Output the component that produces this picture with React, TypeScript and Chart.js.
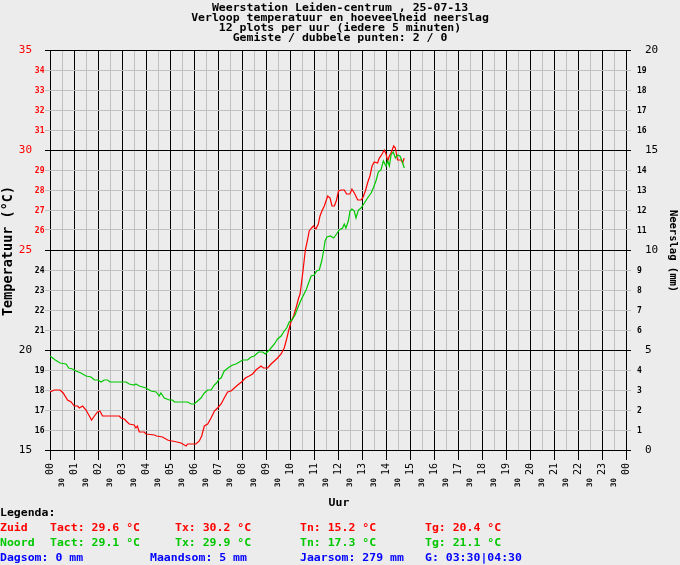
import { useEffect, useRef } from 'react';
import { Chart, registerables } from 'chart.js';

Chart.register(...registerables);

const titelRegels = [
  'Weerstation Leiden-centrum , 25-07-13',
  'Verloop temperatuur en hoeveelheid neerslag',
  '12 plots per uur (iedere 5 minuten)',
  'Gemiste / dubbele punten: 2 / 0',
];

// tijd in uren, temperatuur in °C
const zuidUur = [
  0.0, 0.18, 0.42, 0.55, 0.73, 0.88, 1.01, 1.15, 1.22, 1.36, 1.5, 1.64, 1.73, 1.85, 1.98, 2.08,
  2.19, 2.89, 2.96, 3.1, 3.17, 3.3, 3.51, 3.58, 3.64, 3.72, 3.93, 4.0, 4.35, 4.44, 4.69, 4.9,
  5.04, 5.11, 5.46, 5.67, 5.73, 6.08, 6.22, 6.32, 6.43, 6.57, 6.71, 6.85, 6.98, 7.13, 7.26, 7.4,
  7.54, 7.68, 7.82, 7.98, 8.14, 8.3, 8.44, 8.58, 8.79, 8.89, 9.07, 9.21, 9.35, 9.48, 9.63, 9.76,
  9.86, 9.94, 10.04, 10.15, 10.25, 10.36, 10.42, 10.53, 10.64, 10.73, 10.8, 10.9, 10.98, 11.08,
  11.18, 11.25, 11.33, 11.43, 11.5, 11.57, 11.67, 11.75, 11.85, 11.94, 12.02, 12.13, 12.26, 12.36,
  12.5, 12.58, 12.68, 12.82, 12.96, 13.03, 13.14, 13.23, 13.33, 13.42, 13.51, 13.65, 13.72, 13.79,
  13.93, 14.0, 14.07, 14.14, 14.21, 14.32, 14.39, 14.48, 14.63, 14.69, 14.76,
];
const zuidTemp = [
  17.9, 18.0, 18.0, 17.85, 17.5, 17.4, 17.2, 17.2, 17.1, 17.2, 17.0, 16.7, 16.5, 16.7, 16.9, 16.95,
  16.7, 16.7, 16.6, 16.55, 16.45, 16.3, 16.25, 16.1, 16.2, 15.9, 15.9, 15.8, 15.75, 15.7, 15.65, 15.5,
  15.45, 15.45, 15.35, 15.2, 15.3, 15.3, 15.45, 15.7, 16.2, 16.3, 16.6, 16.95, 17.1, 17.3, 17.6, 17.9,
  17.95, 18.1, 18.25, 18.4, 18.6, 18.7, 18.8, 19.0, 19.2, 19.1, 19.1, 19.3, 19.45, 19.6, 19.8, 20.1,
  20.55, 20.95, 21.4, 21.7, 22.1, 22.6, 22.8, 23.85, 25.0, 25.5, 25.95, 26.1, 26.2, 26.05,
  26.3, 26.7, 26.95, 27.2, 27.45, 27.7, 27.6, 27.2, 27.2, 27.5, 27.95, 28.0, 28.0, 27.8,
  27.8, 28.05, 27.85, 27.5, 27.5, 27.6, 27.95, 28.35, 28.7, 29.2, 29.4, 29.35, 29.6, 29.7,
  30.0, 29.8, 29.45, 29.7, 29.85, 30.2, 30.1, 29.5, 29.5, 29.35, 29.6,
];

const noordUur = [
  0.0, 0.22, 0.42, 0.67, 0.78, 0.94, 1.08, 1.29, 1.5, 1.71, 1.85, 2.0, 2.13, 2.26, 2.4, 2.5,
  3.17, 3.3, 3.51, 3.58, 3.72, 4.0, 4.21, 4.42, 4.55, 4.62, 4.76, 4.97, 5.11, 5.18, 5.73, 5.88,
  6.01, 6.15, 6.29, 6.43, 6.57, 6.71, 6.85, 6.94, 7.05, 7.13, 7.26, 7.47, 7.61, 7.75, 7.89, 8.03,
  8.23, 8.38, 8.51, 8.69, 8.86, 8.97, 9.14, 9.35, 9.48, 9.63, 9.76, 9.86, 9.97, 10.08, 10.21,
  10.32, 10.46, 10.67, 10.88, 11.01, 11.11, 11.22, 11.32, 11.4, 11.46, 11.54, 11.68, 11.82, 11.94,
  12.05, 12.19, 12.26, 12.33, 12.43, 12.5, 12.58, 12.68, 12.75, 12.85, 12.96, 13.1, 13.23, 13.38,
  13.47, 13.58, 13.68, 13.79, 13.89, 14.0, 14.07, 14.14, 14.21, 14.3, 14.39, 14.48, 14.58, 14.67,
  14.76,
];
const noordTemp = [
  19.7, 19.5, 19.35, 19.3, 19.1, 19.05, 18.95, 18.85, 18.7, 18.65, 18.5, 18.5, 18.4, 18.5, 18.5, 18.4,
  18.4, 18.3, 18.25, 18.3, 18.2, 18.1, 17.95, 17.9, 17.7, 17.85, 17.6, 17.5, 17.5, 17.4, 17.4, 17.3,
  17.3, 17.45, 17.6, 17.85, 18.0, 18.0, 18.25, 18.35, 18.55, 18.6, 18.95, 19.15, 19.25, 19.3, 19.4, 19.5,
  19.5, 19.65, 19.7, 19.9, 19.9, 19.8, 20.0, 20.3, 20.55, 20.7, 20.95, 21.1, 21.4, 21.5, 21.75,
  22.1, 22.5, 23.0, 23.7, 23.75, 23.95, 24.0, 24.45, 24.95, 25.45, 25.65, 25.7, 25.6, 25.8,
  26.0, 26.1, 26.3, 26.1, 26.45, 26.95, 27.05, 26.95, 26.6, 27.0, 27.1, 27.35, 27.6, 27.85,
  28.1, 28.45, 28.9, 29.0, 29.45, 29.2, 29.45, 29.2, 29.75, 29.9, 29.6, 29.75, 29.7, 29.45,
  29.1,
];

const uurLabels = [
  '00', '01', '02', '03', '04', '05', '06', '07', '08', '09', '10', '11', '12',
  '13', '14', '15', '16', '17', '18', '19', '20', '21', '22', '23', '00',
];
const halfUurLabel = '30';

const legendaZuid = ['Zuid', 'Tact: 29.6 °C', 'Tx: 30.2 °C', 'Tn: 15.2 °C', 'Tg: 20.4 °C'];
const legendaNoord = ['Noord', 'Tact: 29.1 °C', 'Tx: 29.9 °C', 'Tn: 17.3 °C', 'Tg: 21.1 °C'];
const legendaNeerslag = ['Dagsom: 0 mm', 'Maandsom: 5 mm', 'Jaarsom: 279 mm', 'G: 03:30|04:30'];

const MONO = '"DejaVu Sans Mono", monospace';
const ROOD = '#FF0000';
const GROEN = '#00C800';
const BLAUW = '#0000FF';
const GRIJS = '#C0C0C0';
const ACHTERGROND = '#ECECEC';

// tekst iets platter tekenen, zoals het bitmap-font van het origineel
function platteTekst(ctx: CanvasRenderingContext2D, s: string, x: number, y: number, sy = 0.86) {
  ctx.save();
  ctx.translate(x, y);
  ctx.scale(1, sy);
  ctx.fillText(s, 0, 0);
  ctx.restore();
}

const tekstPlugin = {
  id: 'weerTeksten',
  beforeDraw(chart: Chart) {
    const ctx = chart.ctx;
    ctx.save();
    ctx.fillStyle = ACHTERGROND;
    ctx.fillRect(0, 0, chart.width, chart.height);
    ctx.restore();
  },
  afterDraw(chart: Chart) {
    const ctx = chart.ctx;
    const xS = chart.scales.x;
    const yS = chart.scales.y;
    const y2S = chart.scales.y2;
    ctx.save();

    // titel
    ctx.fillStyle = '#000';
    ctx.font = `bold 11.5px ${MONO}`;
    ctx.textAlign = 'center';
    ctx.textBaseline = 'alphabetic';
    titelRegels.forEach((r, i) => platteTekst(ctx, r, 340, 11 + i * 10));

    // temperatuur-as
    ctx.textBaseline = 'middle';
    ctx.textAlign = 'right';
    yS.ticks.forEach((t) => {
      const v = t.value;
      const py = yS.getPixelForValue(v) + 0.5;
      ctx.fillStyle = v >= 25 ? ROOD : '#000';
      if (v % 5 === 0) {
        ctx.font = `11px ${MONO}`;
        ctx.fillText(String(v), 32, py);
      } else {
        ctx.font = `bold 8px ${MONO}`;
        ctx.fillText(String(v), 44.5, py);
      }
    });

    // neerslag-as
    ctx.textAlign = 'left';
    ctx.fillStyle = '#000';
    y2S.ticks.forEach((t) => {
      const v = t.value;
      const py = y2S.getPixelForValue(v) + 0.5;
      if (v % 5 === 0) {
        ctx.font = `11px ${MONO}`;
        ctx.fillText(String(v), 645, py);
      } else {
        ctx.font = `bold 8px ${MONO}`;
        ctx.fillText(String(v), 637, py);
      }
    });

    // uren
    xS.ticks.forEach((t) => {
      const v = t.value;
      const px = xS.getPixelForValue(v) + 0.5;
      const heel = v % 1 === 0;
      ctx.save();
      ctx.translate(px, heel ? 463 : 478);
      ctx.rotate(-Math.PI / 2);
      ctx.textAlign = 'right';
      ctx.textBaseline = 'middle';
      ctx.fillStyle = '#000';
      ctx.font = heel ? `10px ${MONO}` : `bold 7.5px ${MONO}`;
      ctx.fillText(heel ? uurLabels[v] : halfUurLabel, 0, 0);
      ctx.restore();
    });

    // astitels
    ctx.save();
    ctx.translate(8, 251);
    ctx.rotate(-Math.PI / 2);
    ctx.textAlign = 'center';
    ctx.textBaseline = 'middle';
    ctx.font = `bold 13.5px ${MONO}`;
    ctx.fillText('Temperatuur (°C)', 0, 0);
    ctx.restore();

    ctx.save();
    ctx.translate(673, 251);
    ctx.rotate(Math.PI / 2);
    ctx.textAlign = 'center';
    ctx.textBaseline = 'middle';
    ctx.font = `bold 10.5px ${MONO}`;
    ctx.fillText('Neerslag (mm)', 0, 0);
    ctx.restore();

    ctx.textAlign = 'center';
    ctx.textBaseline = 'alphabetic';
    ctx.font = `bold 11.5px ${MONO}`;
    platteTekst(ctx, 'Uur', 339, 506);

    // legenda
    ctx.textAlign = 'left';
    platteTekst(ctx, 'Legenda:', 0, 516);
    const kolommen = [0, 50, 175, 300, 425];
    ctx.fillStyle = ROOD;
    legendaZuid.forEach((s, i) => platteTekst(ctx, s, kolommen[i], 531));
    ctx.fillStyle = GROEN;
    legendaNoord.forEach((s, i) => platteTekst(ctx, s, kolommen[i], 546));
    ctx.fillStyle = BLAUW;
    const kolommenNeerslag = [0, 150, 300, 425];
    legendaNeerslag.forEach((s, i) => platteTekst(ctx, s, kolommenNeerslag[i], 561));

    ctx.restore();
  },
};

export default function App() {
  const chartRef = useRef<HTMLCanvasElement>(null);
  const chartInstance = useRef<Chart | null>(null);

  useEffect(() => {
    if (!chartRef.current) return;
    chartInstance.current?.destroy();
    const ctx = chartRef.current.getContext('2d');
    if (!ctx) return;

    chartInstance.current = new Chart(ctx, {
      type: 'line',
      data: {
        datasets: [
          {
            label: 'Noord',
            data: noordUur.map((u, i) => ({ x: u, y: noordTemp[i] })),
            borderColor: GROEN,
            borderWidth: 1.2,
            pointRadius: 0,
            tension: 0,
            yAxisID: 'y',
          },
          {
            label: 'Zuid',
            data: zuidUur.map((u, i) => ({ x: u, y: zuidTemp[i] })),
            borderColor: ROOD,
            borderWidth: 1.2,
            pointRadius: 0,
            tension: 0,
            yAxisID: 'y',
          },
        ],
      },
      options: {
        animation: false,
        responsive: true,
        maintainAspectRatio: false,
        layout: { padding: { left: 45, right: 49, top: 50, bottom: 105 } },
        plugins: {
          legend: { display: false },
          title: { display: false },
          tooltip: { enabled: false },
        },
        scales: {
          x: {
            type: 'linear',
            position: 'bottom',
            min: 0,
            max: 24,
            ticks: { display: false, stepSize: 0.5, autoSkip: false },
            grid: {
              color: (c: any) => (c.tick.value % 1 === 0 ? '#000' : GRIJS),
              tickColor: (c: any) => (c.tick.value % 1 === 0 ? '#000' : 'rgba(0,0,0,0)'),
              tickLength: 10,
              lineWidth: 1,
            },
            border: { display: false },
            afterFit: (s: any) => {
              s.height = 10;
            },
          },
          y: {
            type: 'linear',
            position: 'left',
            min: 15,
            max: 35,
            ticks: { display: false, stepSize: 1, autoSkip: false },
            grid: {
              color: (c: any) => (c.tick.value % 5 === 0 ? '#000' : GRIJS),
              tickColor: (c: any) => (c.tick.value % 5 === 0 ? '#000' : GRIJS),
              tickLength: 5,
              lineWidth: 1,
            },
            border: { display: false },
            afterFit: (s: any) => {
              s.width = 5;
            },
          },
          y2: {
            type: 'linear',
            position: 'right',
            min: 0,
            max: 20,
            ticks: { display: false, stepSize: 1, autoSkip: false },
            grid: {
              drawOnChartArea: false,
              tickColor: (c: any) => (c.tick.value % 5 === 0 ? '#000' : GRIJS),
              tickLength: 5,
              lineWidth: 1,
            },
            border: { display: false },
            afterFit: (s: any) => {
              s.width = 5;
            },
          },
        },
      },
      plugins: [tekstPlugin],
    });

    return () => {
      chartInstance.current?.destroy();
    };
  }, []);

  return (
    <div style={{ position: 'absolute', left: 0, top: 0, width: 680, height: 565, background: ACHTERGROND }}>
      <canvas ref={chartRef} />
    </div>
  );
}
